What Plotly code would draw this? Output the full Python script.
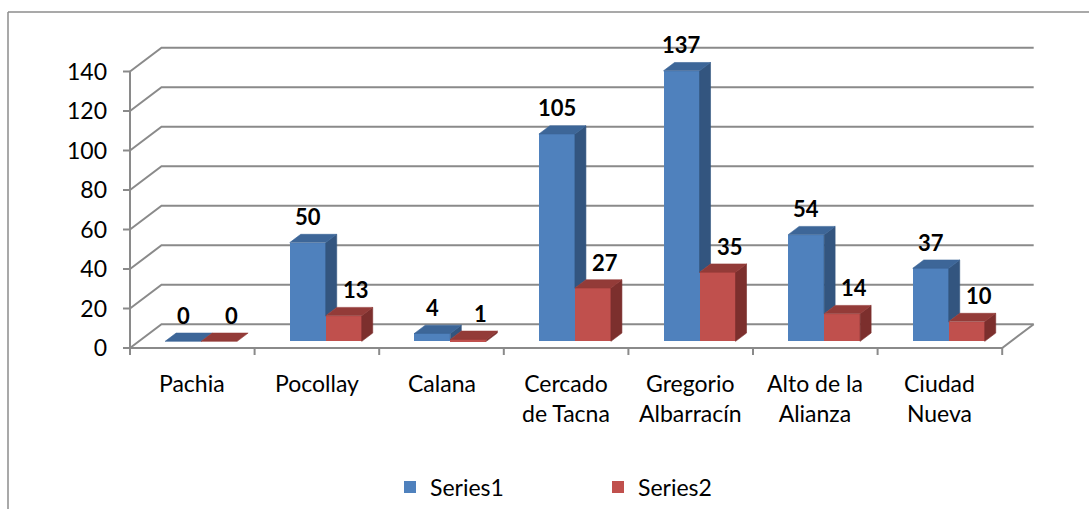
import plotly.graph_objects as go

# ---- data ----
categories = ["Pachia", "Pocollay", "Calana", "Cercado<br>de Tacna",
              "Gregorio<br>Albarracín", "Alto de la<br>Alianza", "Ciudad<br>Nueva"]
series1 = [0, 50, 4, 105, 137, 54, 37]
series2 = [0, 13, 1, 27, 35, 14, 10]
y_ticks = [0, 20, 40, 60, 80, 100, 120, 140]

# ---- page geometry (pixels) ----
W, H = 1089, 509
PL, PR, PT, PB = 115, 1046, 30, 362      # plot area edges
ORG_X, ORG_Y = 130, 348                  # front-left corner of the floor
PXC = 124.6                              # px per category
PXV = 1.975                              # px per value unit

x_range = [(PL - ORG_X) / PXC, (PR - ORG_X) / PXC]
y_range = [(ORG_Y - PB) / PXV, (ORG_Y - PT) / PXV]

# oblique depth of the floor / back wall, in data units
DX, DY = 31.5 / PXC, 23.7 / PXV
# front plane of the columns and their own depth
F0 = 0.28
BX0, BY0 = F0 * DX, F0 * DY
SDX, SDY = 11 / PXC, 8.3 / PXV
BW = 36 / PXC

BLUE, BLUE_TOP, BLUE_SIDE = "#4F81BD", "#3D6698", "#33557F"
RED, RED_TOP, RED_SIDE = "#C0504D", "#933B38", "#7C2F2D"
GRID = "#8A8A8A"
FONT = "Lato"

n = len(categories)
blue_left = [k + 0.5 + BX0 - BW for k in range(n)]
red_left = [k + 0.5 + BX0 for k in range(n)]

fig = go.Figure()

# front faces of the columns
fig.add_trace(go.Bar(name="Series1", x=[l + BW / 2 for l in blue_left], y=series1,
                     base=BY0, width=BW, marker=dict(color=BLUE, line=dict(width=0))))
fig.add_trace(go.Bar(name="Series2", x=[l + BW / 2 for l in red_left], y=series2,
                     base=BY0, width=BW, marker=dict(color=RED, line=dict(width=0))))


def top_face(lefts, vals):
    xs, ys = [], []
    for l, v in zip(lefts, vals):
        t = BY0 + v
        xs += [l, l + BW, l + BW + SDX, l + SDX, l, None]
        ys += [t, t, t + SDY, t + SDY, t, None]
    return xs, ys


def side_face(lefts, vals, lows):
    xs, ys = [], []
    for l, v, lo in zip(lefts, vals, lows):
        if v <= lo:
            continue
        xr = l + BW
        b, t = BY0 + lo, BY0 + v
        xs += [xr, xr + SDX, xr + SDX, xr, xr, None]
        ys += [b, b + SDY, t + SDY, t, b, None]
    return xs, ys


# blue side is hidden below the red column standing in front of it
faces = [
    (side_face(blue_left, series1, series2), BLUE_SIDE),
    (top_face(blue_left, series1), BLUE_TOP),
    (side_face(red_left, series2, [0] * n), RED_SIDE),
    (top_face(red_left, series2), RED_TOP),
]
for (xs, ys), col in faces:
    fig.add_trace(go.Scatter(x=xs, y=ys, mode="lines", fill="toself", fillcolor=col,
                             line=dict(color=col, width=0.6), showlegend=False,
                             hoverinfo="skip"))

# back wall gridlines, floor and axes
shapes = []
for v in y_ticks:
    shapes.append(dict(type="path", path=f"M 0,{v} L {DX},{v + DY} L {n + DX},{v + DY}",
                       line=dict(color=GRID, width=2), layer="below"))
    shapes.append(dict(type="line", x0=0, y0=v, x1=-7 / PXC, y1=v,
                       line=dict(color=GRID, width=2), layer="below"))
shapes.append(dict(type="path", path=f"M 0,0 L {n},0 L {n + DX},{DY}",
                   line=dict(color=GRID, width=2), layer="below"))
shapes.append(dict(type="line", x0=0, y0=0, x1=0, y1=y_ticks[-1],
                   line=dict(color=GRID, width=2), layer="below"))
for k in range(n + 1):
    shapes.append(dict(type="line", x0=k, y0=0, x1=k, y1=-7 / PXV,
                       line=dict(color=GRID, width=2), layer="below"))

# chart border (top and left edges)
def px_to_paper_x(px):
    return (px - PL) / (PR - PL)


def px_to_paper_y(py):
    return (PB - py) / (PB - PT)


shapes.append(dict(type="line", xref="paper", yref="paper",
                   x0=px_to_paper_x(8), y0=px_to_paper_y(12),
                   x1=px_to_paper_x(W + 5), y1=px_to_paper_y(12),
                   line=dict(color="#8C8C8C", width=1.5)))
shapes.append(dict(type="line", xref="paper", yref="paper",
                   x0=px_to_paper_x(8), y0=px_to_paper_y(12),
                   x1=px_to_paper_x(8), y1=px_to_paper_y(H + 5),
                   line=dict(color="#8C8C8C", width=1.5)))

annotations = []
# value labels
for k in range(n):
    annotations.append(dict(x=blue_left[k] + BW / 2, y=BY0 + series1[k], text=str(series1[k]),
                            showarrow=False, yanchor="middle", yshift=26,
                            font=dict(family=FONT, size=22, color="#000000", weight="bold")))
    annotations.append(dict(x=red_left[k] + BW / 2 + 12 / PXC, y=BY0 + series2[k],
                            text=str(series2[k]), showarrow=False, yanchor="middle", yshift=26,
                            font=dict(family=FONT, size=22, color="#000000", weight="bold")))
# category labels
for k, c in enumerate(categories):
    annotations.append(dict(x=k + 0.5, y=0, text=c, showarrow=False, yanchor="top",
                            yshift=-19, font=dict(family=FONT, size=23, color="#000000")))

fig.update_layout(
    width=W, height=H,
    margin=dict(l=PL, r=W - PR, t=PT, b=H - PB, pad=0, autoexpand=False),
    paper_bgcolor="white", plot_bgcolor="white",
    barmode="overlay", bargap=0,
    showlegend=True,
    legend=dict(orientation="h", x=px_to_paper_x(390), y=px_to_paper_y(487),
                xanchor="left", yanchor="middle", entrywidth=163, entrywidthmode="pixels",
                font=dict(family=FONT, size=23, color="#000000"), bgcolor="rgba(0,0,0,0)"),
    xaxis=dict(range=x_range, showgrid=False, zeroline=False, showline=False,
               showticklabels=False, ticks="", fixedrange=True),
    yaxis=dict(range=y_range, showgrid=False, zeroline=False, showline=False,
               tickvals=y_ticks, ticks="", ticklabelstandoff=7,
               tickfont=dict(family=FONT, size=23, color="#000000"), fixedrange=True),
    shapes=shapes, annotations=annotations,
)

fig.write_html("out.html")
